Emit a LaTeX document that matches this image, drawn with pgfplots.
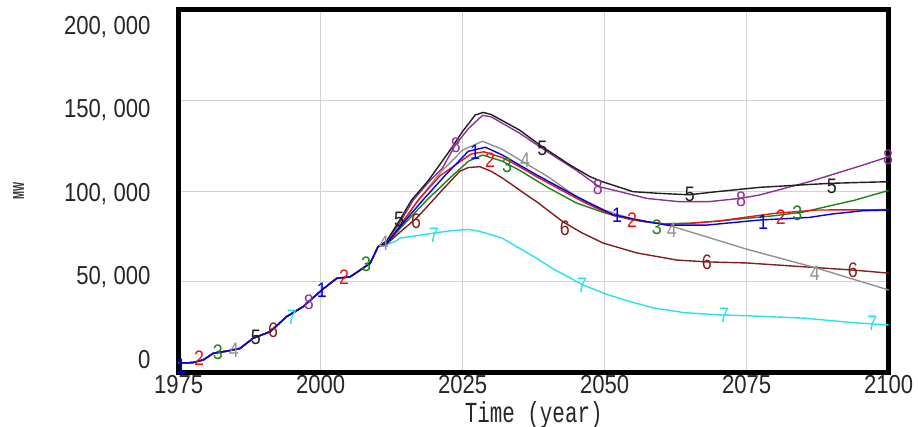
\documentclass[border=0pt]{standalone}
\usepackage{fontspec}
\setmainfont{Liberation Sans}
\newfontfamily\tickfont[FakeStretch=0.85]{Liberation Sans}
\newfontfamily\mwfont[FakeStretch=0.6]{Liberation Sans}
\newfontfamily\xlabfont[FakeStretch=0.72]{Liberation Mono}
\usepackage{pgfplots}
\pgfplotsset{compat=1.18}
\definecolor{c1}{RGB}{0,0,230}
\definecolor{c2}{RGB}{235,20,20}
\definecolor{c3}{RGB}{30,130,30}
\definecolor{c4}{RGB}{145,145,145}
\definecolor{c5}{RGB}{30,30,30}
\definecolor{c6}{RGB}{130,30,30}
\definecolor{c7}{RGB}{40,225,235}
\definecolor{c8}{RGB}{140,50,150}
\newcommand{\lblfont}{\tickfont\fontsize{21}{23}\selectfont}
\newcommand{\yl}[2]{\raisebox{#1}{#2}}
\pgfplotsset{
  lbl/.style={draw=none, mark=none, nodes near coords={#1},
    every node near coord/.style={anchor=center, inner sep=0pt, font=\lblfont}},
  crv/.style={line width=1.4pt, mark=none},
}
\begin{document}
\begin{tikzpicture}
\begin{axis}[
  scale only axis, width=710pt, height=362.7pt,
  xmin=1975, xmax=2100, ymin=0, ymax=200000,
  clip=false,
  axis line style={line width=5pt, black},
  grid=major, major grid style={gray!35, line width=1pt},
  major tick length=0pt,
  xtick={1975,2000,2025,2050,2075,2100},
  xticklabels={1975,2000,2025,2050,2075,2100},
  ytick={0,50000,100000,150000,200000},
  yticklabels={\yl{4.2pt}{0},{\yl{-3pt}{50,\hspace{0.25em}000}},{\yl{-10.2pt}{100,\hspace{0.25em}000}},{\yl{-17.4pt}{150,\hspace{0.25em}000}},{\yl{-24.6pt}{200,\hspace{0.25em}000}}},
  xticklabel style={font=\tickfont\fontsize{26}{28}\selectfont, inner sep=1pt, yshift=-2pt, text=black!85},
  yticklabel style={font=\tickfont\fontsize{26}{28}\selectfont, inner sep=1pt, anchor=base east, xshift=-27pt, text=black!85},
  xlabel={Time (year)},
  xlabel style={at={(axis description cs:0.5,0)}, anchor=north, yshift=-29pt, inner sep=0pt, font=\xlabfont\fontsize{29}{30}\selectfont, text=black!85},
  ylabel={MW},
  ylabel style={at={(axis description cs:-0.2254,0.5)}, anchor=center, inner sep=0pt, font=\mwfont\fontsize{16}{17}\selectfont\bfseries, text=black!80},
]
% 8 purple
\addplot[crv, c8] coordinates {(1975,5100) (1977.5,5500) (1979.3,6900) (1981.1,10600) (1983.5,11800) (1985.8,13300) (1988.1,18900) (1991.1,22500) (1994,30800) (1996.9,36300) (2000.2,45500) (2002.8,51900) (2005.2,52800) (2008.7,60200) (2010.1,69400)
 (2011.6,72000) (2014,83000) (2016.3,95100) (2019,105000) (2021.4,112600) (2023.7,125400) (2026,134500) (2028.5,141800) (2030,141000) (2035,132000) (2040,121500) (2045,111500) (2049,102500) (2052.7,99700) (2057.4,96000) (2063,94200) (2068.3,94200) (2073.8,96000) (2077.3,97900) (2086,105200) (2095.5,114400) (2100,119000)};
% 7 cyan
\addplot[crv, c7] coordinates {(1975,5100) (1977.5,5500) (1979.3,6900) (1981.1,10600) (1983.5,11800) (1985.8,13300) (1988.1,18900) (1991.1,22500) (1994,30800) (1996.9,36300) (2000.2,45500) (2002.8,51900) (2005.2,52800) (2008.7,60200) (2010.1,69400)
 (2011.3,70300) (2013,72100) (2014,74100) (2017,75500) (2020,76900) (2023,78200) (2026,78900) (2028,77800) (2030,76000) (2032,74000) (2035,68500) (2038,63000) (2041,57000) (2044,52000) (2046,48500) (2050,43500) (2054,39500) (2058.5,35700) (2064,33000) (2070,31800) (2075,31300) (2085,30000) (2093.7,27500) (2100,26200)};
% 6 maroon
\addplot[crv, c6] coordinates {(1975,5100) (1977.5,5500) (1979.3,6900) (1981.1,10600) (1983.5,11800) (1985.8,13300) (1988.1,18900) (1991.1,22500) (1994,30800) (1996.9,36300) (2000.2,45500) (2002.8,51900) (2005.2,52800) (2008.7,60200) (2010.1,69400)
 (2011.6,70800) (2014,77500) (2017,85500) (2019.8,95100) (2021.4,100600) (2024.5,111000) (2026,113000) (2028,113500) (2030,111000) (2032,107200) (2036.9,96500) (2038,94200) (2042.7,83000) (2046,77000) (2049.7,71400) (2055.7,65900) (2062.7,62000) (2068,61000) (2075,60400) (2085,58300) (2093.7,56500) (2100,54800)};
% 5 black
\addplot[crv, c5] coordinates {(1975,5100) (1977.5,5500) (1979.3,6900) (1981.1,10600) (1983.5,11800) (1985.8,13300) (1988.1,18900) (1991.1,22500) (1994,30800) (1996.9,36300) (2000.2,45500) (2002.8,51900) (2005.2,52800) (2008.7,60200) (2010.1,69400)
 (2011.6,72500) (2014,84500) (2016,95100) (2019,106000) (2022.8,122700) (2025,133000) (2027.2,142000) (2028.6,143400) (2030,142300) (2035,133700) (2039,124500) (2043.9,114400) (2047.4,108000) (2049.6,105200) (2055,99700) (2059.5,98800) (2064.8,98000) (2070,99800) (2073.8,101000) (2077.3,102100) (2085,103500) (2089.7,104300) (2095,104800) (2100,105200)};
% 4 gray
\addplot[crv, c4] coordinates {(1975,5100) (1977.5,5500) (1979.3,6900) (1981.1,10600) (1983.5,11800) (1985.8,13300) (1988.1,18900) (1991.1,22500) (1994,30800) (1996.9,36300) (2000.2,45500) (2002.8,51900) (2005.2,52800) (2008.7,60200) (2010.1,69400)
 (2011.6,71300) (2014,81500) (2017.2,95100) (2021,110000) (2025,122700) (2028.5,127500) (2032,123000) (2035.6,116200) (2040,108000) (2045,97000) (2050,89500) (2055,84500) (2059,82500) (2062,80500) (2075,68000) (2087.3,57600) (2100,45500)};
% 3 green
\addplot[crv, c3] coordinates {(1975,5100) (1977.5,5500) (1979.3,6900) (1981.1,10600) (1983.5,11800) (1985.8,13300) (1988.1,18900) (1991.1,22500) (1994,30800) (1996.9,36300) (2000.2,45500) (2002.8,51900) (2005.2,52800) (2008.7,60200) (2010.1,69400)
 (2011.6,71000) (2014,79500) (2018.7,95100) (2023,108000) (2026,116500) (2028.5,119900) (2032,116500) (2035,111500) (2040,102000) (2045,93500) (2050,88000) (2055,84000) (2060,82000) (2065,82300) (2070,83500) (2075,85000) (2080,86500) (2085,88500) (2088,90700) (2094,95000) (2100,100400)};
% 2 red
\addplot[crv, c2] coordinates {(1975,5100) (1977.5,5500) (1979.3,6900) (1981.1,10600) (1983.5,11800) (1985.8,13300) (1988.1,18900) (1991.1,22500) (1994,30800) (1996.9,36300) (2000.2,45500) (2002.8,51900) (2005.2,52800) (2008.7,60200) (2010.1,69400)
 (2011.6,71200) (2014,81000) (2017.2,95100) (2021,108500) (2026.5,120500) (2028.7,121700) (2032,118500) (2035,113500) (2038,108000) (2042.7,100000) (2046.9,93000) (2051.5,86500) (2057.4,83000) (2061,81800) (2065,82300) (2070,83500) (2075,85700) (2080,87800) (2087.4,89600) (2100,89800)};
% 1 blue
\addplot[crv, c1] coordinates {(1975,5100) (1977.5,5500) (1979.3,6900) (1981.1,10600) (1983.5,11800) (1985.8,13300) (1988.1,18900) (1991.1,22500) (1994,30800) (1996.9,36300) (2000.2,45500) (2002.8,51900) (2005.2,52800) (2008.7,60200) (2010.1,69400)
 (2011.6,71200) (2014,80500) (2018,95100) (2022,109000) (2026,122000) (2029,124200) (2032,119900) (2035,114400) (2038,109000) (2042.7,101000) (2046.9,94000) (2051.5,87000) (2057.4,83200) (2061,81300) (2068,81300) (2074,83100) (2077.3,84100) (2086,85500) (2090,87400) (2095.5,89200) (2100,89600)};
% number labels
\addplot[lbl={\textcolor{c1}{1}}] coordinates {(1975.4,3600) (2000.2,45500) (2027.2,121700) (2052.2,86800) (2077.9,82700)};
\addplot[lbl={\textcolor{c2}{2}}] coordinates {(1978.6,8000) (2004.1,52600) (2029.8,117200) (2054.8,84100) (2081,85700)};
\addplot[lbl={\textcolor{c3}{3}}] coordinates {(1981.9,11300) (2008,59800) (2032.8,114400) (2059.2,80200) (2083.9,87900)};
\addplot[lbl={\textcolor{c4}{4}}] coordinates {(1984.7,12400) (2011.1,71400) (2036,117200) (2061.8,78600) (2087,54900)};
\addplot[lbl={\textcolor{c5}{5}}] coordinates {(1988.6,19600) (2013.8,84600) (2039,123500) (2065,98400) (2090,102800)};
\addplot[lbl={\textcolor{c6}{6}}] coordinates {(1991.6,23400) (2016.8,83500) (2043,79700) (2068,60900) (2093.7,56500)};
\addplot[lbl={\textcolor{c7}{7}}] coordinates {(1994.9,30600) (2019.9,75800) (2046,48200) (2071,31700) (2097.1,27300)};
\addplot[lbl={\textcolor{c8}{8}}] coordinates {(1997.9,38900) (2023.8,125400) (2048.8,102200) (2074,95500) (2099.9,118900)};
\end{axis}
\pgfresetboundingbox
\path[use as bounding box] ([xshift=-178.7pt,yshift=-53.5pt]current axis.south west) rectangle ([xshift=29.3pt,yshift=9.8pt]current axis.north east);
\end{tikzpicture}
\end{document}
